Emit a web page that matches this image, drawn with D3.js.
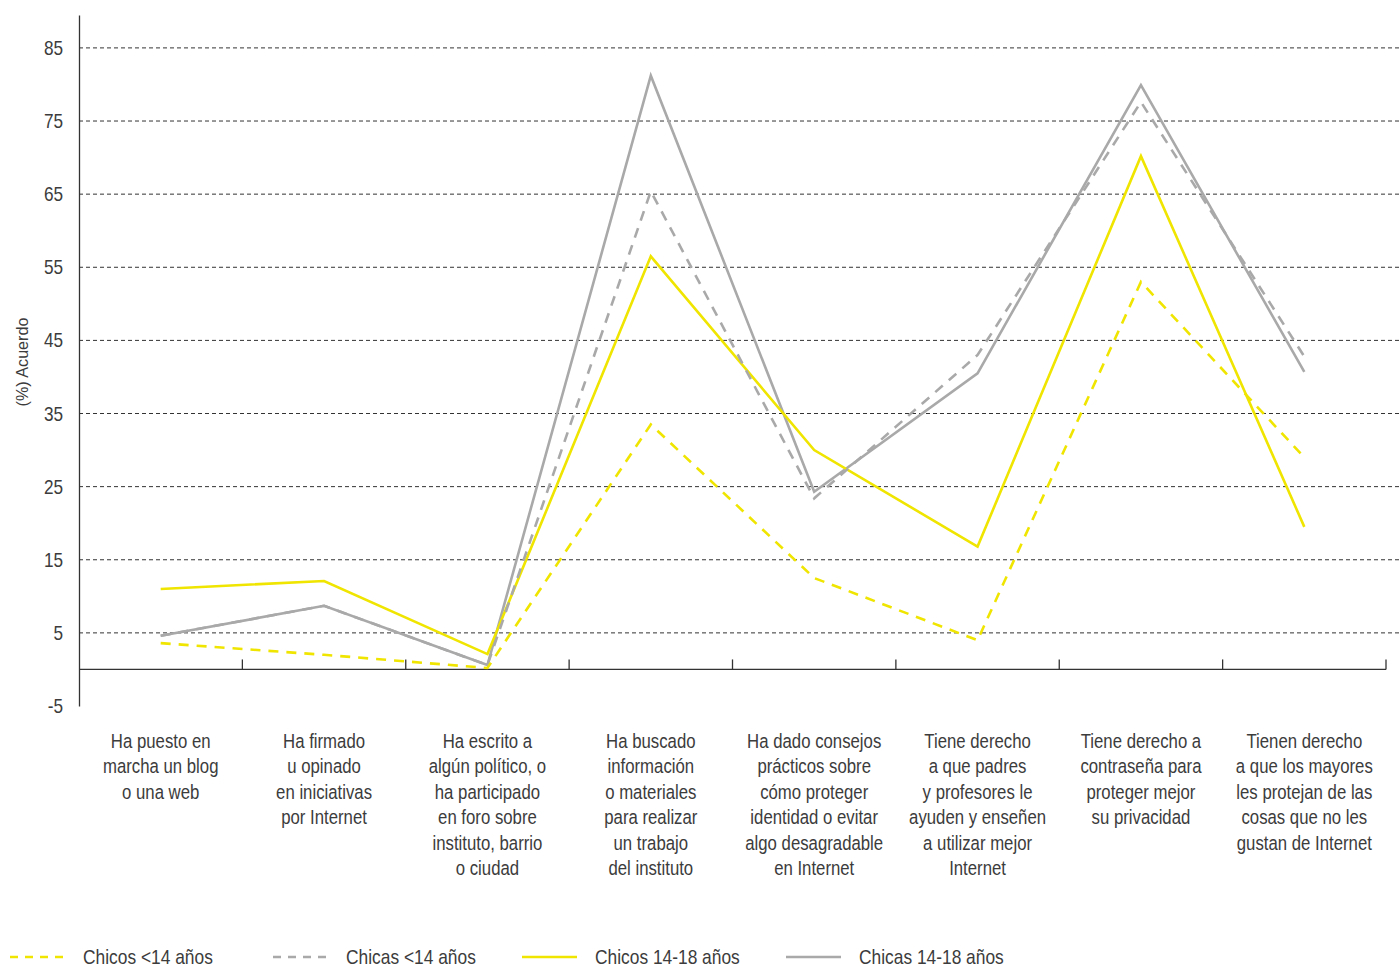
<!DOCTYPE html>
<html><head><meta charset="utf-8">
<script src="https://cdn.jsdelivr.net/npm/d3@7"></script>
<style>
html,body{margin:0;padding:0;background:#fff;}
svg text{font-family:"Liberation Sans",Arial,sans-serif;fill:#3c3c3c;}
</style></head>
<body><svg id="c" width="1400" height="967"></svg>
<script>
const categories = [
  ["Ha puesto en","marcha un blog","o una web"],
  ["Ha firmado","u opinado","en iniciativas","por Internet"],
  ["Ha escrito a","algún político, o","ha participado","en foro sobre","instituto, barrio","o ciudad"],
  ["Ha buscado","información","o materiales","para realizar","un trabajo","del instituto"],
  ["Ha dado consejos","prácticos sobre","cómo proteger","identidad o evitar","algo desagradable","en Internet"],
  ["Tiene derecho","a que padres","y profesores le","ayuden y enseñen","a utilizar mejor","Internet"],
  ["Tiene derecho a","contraseña para","proteger mejor","su privacidad"],
  ["Tienen derecho","a que los mayores","les protejan de las","cosas que no les","gustan de Internet"]
];
const seriesNames = ["Chicos <14 años","Chicas <14 años","Chicos 14-18 años","Chicas 14-18 años"];
const chicosMenor14 = [3.6, 2.0, 0.2, 33.5, 12.5, 4.0, 53.0, 29.0];
const chicasMenor14 = [4.6, 8.7, 0.6, 65.4, 23.4, 43.0, 77.6, 42.8];
const chicos14_18 = [11.0, 12.1, 2.1, 56.5, 30.0, 16.8, 70.2, 19.5];
const chicas14_18 = [4.6, 8.7, 0.6, 81.2, 24.3, 40.5, 79.9, 40.7];
const yTicks = [-5, 5, 15, 25, 35, 45, 55, 65, 75, 85];

const seriesData = [chicosMenor14, chicasMenor14, chicos14_18, chicas14_18];
const seriesColor = ["#efe500", "#a9a9a9", "#efe500", "#a9a9a9"];
const seriesDash = ["10,8", "10,8", null, null];
const K = 0.86; // horizontal condense factor

const svg = d3.select("#c");
const keys = categories.map((c,i)=>"c"+i);
const x = d3.scaleBand().domain(keys).range([79, 1386]).padding(0);
const y = d3.scaleLinear().domain([-5, 89.5]).range([706, 15]);

function ctext(parent, px, py, size, anchor, lines, lh){
  const g = parent.append("g").attr("transform",`translate(${px},${py}) scale(${K},1)`);
  const t = g.append("text").attr("text-anchor",anchor).style("font-size",size+"px");
  lines.forEach((l,j)=>t.append("tspan").attr("x",0).attr("dy", j===0?0:lh).text(l));
  return g;
}

// grid
svg.append("g").selectAll("line").data(yTicks.filter(t=>t>-5)).join("line")
  .attr("x1", 79).attr("x2", 1400)
  .attr("y1", d=>y(d)).attr("y2", d=>y(d))
  .attr("stroke", "#333").attr("stroke-width", 1).attr("stroke-dasharray", "4,3");

// y axis
const ya = svg.append("g").attr("transform","translate(79,0)")
  .call(d3.axisLeft(y).tickValues(yTicks).tickSize(0).tickSizeOuter(0).tickFormat(()=>""));
ya.select(".domain").attr("stroke","#333").attr("stroke-width",1.3);
const yl = svg.append("g");
yTicks.forEach(t=>ctext(yl, 63, y(t)+7, 20, "end", [String(t)], 0));

// x axis at zero
const xa = svg.append("g").attr("transform",`translate(0,${y(0)})`);
xa.append("line").attr("x1",79).attr("x2",1386).attr("stroke","#333").attr("stroke-width",1.3);
xa.selectAll("line.tk").data(keys.map(k=>x(k)+x.bandwidth())).join("line").attr("class","tk")
  .attr("x1",d=>d).attr("x2",d=>d).attr("y1",0).attr("y2",-10).attr("stroke","#333").attr("stroke-width",1.3);

// category labels
const lab = svg.append("g");
categories.forEach((lines,i)=>{
  ctext(lab, x(keys[i]) + x.bandwidth()/2, 748, 19.5, "middle", lines, 25.5);
});

// y title
svg.append("g").attr("transform","translate(28,362) rotate(-90) scale(0.95,1)")
  .append("text").attr("text-anchor","middle").style("font-size","17px").text("(%) Acuerdo");

// lines
const line = d3.line().x((d,i)=>x(keys[i])+x.bandwidth()/2).y(d=>y(d));
[3,2,1,0].forEach(s=>{
  svg.append("path").datum(seriesData[s]).attr("d", line).attr("fill","none")
    .attr("stroke", seriesColor[s]).attr("stroke-width", 2.6)
    .attr("stroke-dasharray", seriesDash[s]);
});

// legend
const legX = [10, 273, 522, 786];
seriesNames.forEach((n,i)=>{
  const g = svg.append("g").attr("transform",`translate(${legX[i]},957)`);
  g.append("line").attr("x1",0).attr("x2",55).attr("y1",0).attr("y2",0)
    .attr("stroke",seriesColor[i]).attr("stroke-width",2.6).attr("stroke-dasharray", seriesDash[i] ? "8,7" : null);
  ctext(g, 73, 6.5, 20.2, "start", [n], 0);
});
</script></body></html>
